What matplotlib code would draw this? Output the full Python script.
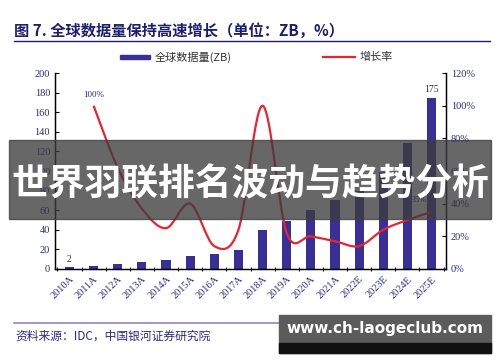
import numpy as np
import matplotlib
matplotlib.use('Agg')
import matplotlib.pyplot as plt
from matplotlib.path import Path
from matplotlib.patches import PathPatch, Rectangle
from matplotlib.lines import Line2D
from matplotlib.ticker import FuncFormatter, MultipleLocator

plt.rcParams['font.family'] = ['Liberation Serif', 'Noto Sans CJK SC', 'DejaVu Sans']

years = ['2010A', '2011A', '2012A', '2013A', '2014A', '2015A', '2016A', '2017A',
         '2018A', '2019A', '2020A', '2021A', '2022E', '2023E', '2024E', '2025E']
data_zb = [2, 3.5, 5.5, 7.5, 9, 13, 15, 19, 40, 49, 60, 70, 80, 99, 129, 175]
growth = [None, 1.00, 0.62, 0.37, 0.25, 0.40, 0.14, 0.24, 1.00, 0.22, 0.20, 0.17,
          0.14, 0.24, 0.30, 0.35]

navy = '#2B2A85'
bar_c = '#3A2F96'
red = '#E8252E'

fig = plt.figure(figsize=(5, 3.62), dpi=100)
ax = fig.add_axes([0.11, 0.257, 0.782, 0.541])
x = np.arange(len(years))
ax.bar(x, data_zb, width=0.38, color=bar_c, zorder=2)
ax.set_xlim(-0.6, len(years) - 0.4)
ax.set_ylim(0, 200)
ax.yaxis.set_major_locator(MultipleLocator(20))
ax.set_xticks(x)
ax.set_xticklabels(years, rotation=45, ha='right', rotation_mode='anchor',
                   color=navy, fontsize=7.5)
ax.set_xticks(np.arange(-0.5, len(years), 1), minor=True)
ax.tick_params(axis='x', which='major', length=0, pad=4)
ax.tick_params(axis='x', which='minor', length=3, direction='inout', width=0.8)
ax.tick_params(axis='y', direction='in', length=3, labelsize=7.5, labelcolor=navy, width=0.8)
ax.spines['top'].set_visible(False)
for s in ['left', 'bottom', 'right']:
    ax.spines[s].set_linewidth(1.0)

ax.text(x[0], data_zb[0] + 3, '2', ha='center', va='bottom', fontsize=7, color=navy)
ax.text(x[-1], data_zb[-1] + 4, '175', ha='center', va='bottom', fontsize=7, color='#333333')

ax2 = ax.twinx()
ax2.set_ylim(0, 1.2)
ax2.yaxis.set_major_locator(MultipleLocator(0.2))
ax2.yaxis.set_major_formatter(FuncFormatter(lambda v, p: '%d%%' % round(v * 100)))
ax2.tick_params(axis='y', direction='in', length=3, labelsize=7.5, labelcolor=navy, width=0.8)
ax2.spines['top'].set_visible(False)

# smoothed line through the growth points (Catmull-Rom as bezier segments)
gx = [i for i, g in enumerate(growth) if g is not None]
gy = [g for g in growth if g is not None]
pts = np.column_stack([gx, gy])
verts = [tuple(pts[0])]
codes = [Path.MOVETO]
for i in range(len(pts) - 1):
    p0 = pts[max(i - 1, 0)]
    p1 = pts[i]
    p2 = pts[i + 1]
    p3 = pts[min(i + 2, len(pts) - 1)]
    c1 = p1 + (p2 - p0) / 6
    c2 = p2 - (p3 - p1) / 6
    verts += [tuple(c1), tuple(c2), tuple(p2)]
    codes += [Path.CURVE4] * 3
ax2.add_patch(PathPatch(Path(verts, codes), fill=False, edgecolor=red, lw=1.6, zorder=3))
ax2.text(gx[0], gy[0] + 0.04, '100%', ha='center', va='bottom', fontsize=6.5, color=navy)
ax2.text(gx[-1] - 0.55, gy[-1] + 0.05, '35%', ha='center', va='bottom', fontsize=6.5, color=navy)

# title, rules, legend
fig.text(0.028, 0.915, '图 7. 全球数据量保持高速增长（单位：ZB，%）', fontsize=11,
         fontweight='bold', color='#1E1E6E', family=['Noto Sans CJK SC'], va='center')
fig.add_artist(Line2D([0.028, 0.98], [0.887, 0.887], color='#1E1E6E', lw=1.0))
fig.add_artist(Rectangle((0.24, 0.836), 0.06, 0.012, color=bar_c))
fig.text(0.31, 0.842, '全球数据量(ZB)', fontsize=8, color='#333333', va='center',
         family=['Noto Sans CJK SC'])
fig.add_artist(Line2D([0.646, 0.71], [0.842, 0.842], color=red, lw=1.6))
fig.text(0.72, 0.842, '增长率', fontsize=8, color='#333333', va='center',
         family=['Noto Sans CJK SC'])
fig.add_artist(Line2D([0.028, 0.98], [0.108, 0.108], color='#8A86C6', lw=1.2))
fig.text(0.03, 0.072, '资料来源：IDC，中国银河证券研究院', fontsize=8.5, color='#2B2A85',
         style='italic', va='center', family=['Noto Sans CJK SC'])

# overlay banner and watermark
fig.add_artist(Rectangle((0.018, 0.395), 0.964, 0.218, color='#3C3C3C', alpha=0.78, zorder=10))
fig.text(0.5, 0.49, '世界羽联排名波动与趋势分析', fontsize=26.5, fontweight='bold',
         color='white', ha='center', va='center', family=['Noto Sans CJK SC'], zorder=11)
fig.add_artist(Rectangle((0.558, 0.025), 0.424, 0.105, color='#5B5B5B', zorder=10))
fig.add_artist(Rectangle((0.558, 0.025), 0.424, 0.028, color='#111111', zorder=10))
fig.text(0.77, 0.092, 'www.ch-laogeclub.com', fontsize=11, fontweight='bold', color='white',
         ha='center', va='center', family=['DejaVu Sans'], zorder=11)

fig.savefig('out.png', dpi=100)
